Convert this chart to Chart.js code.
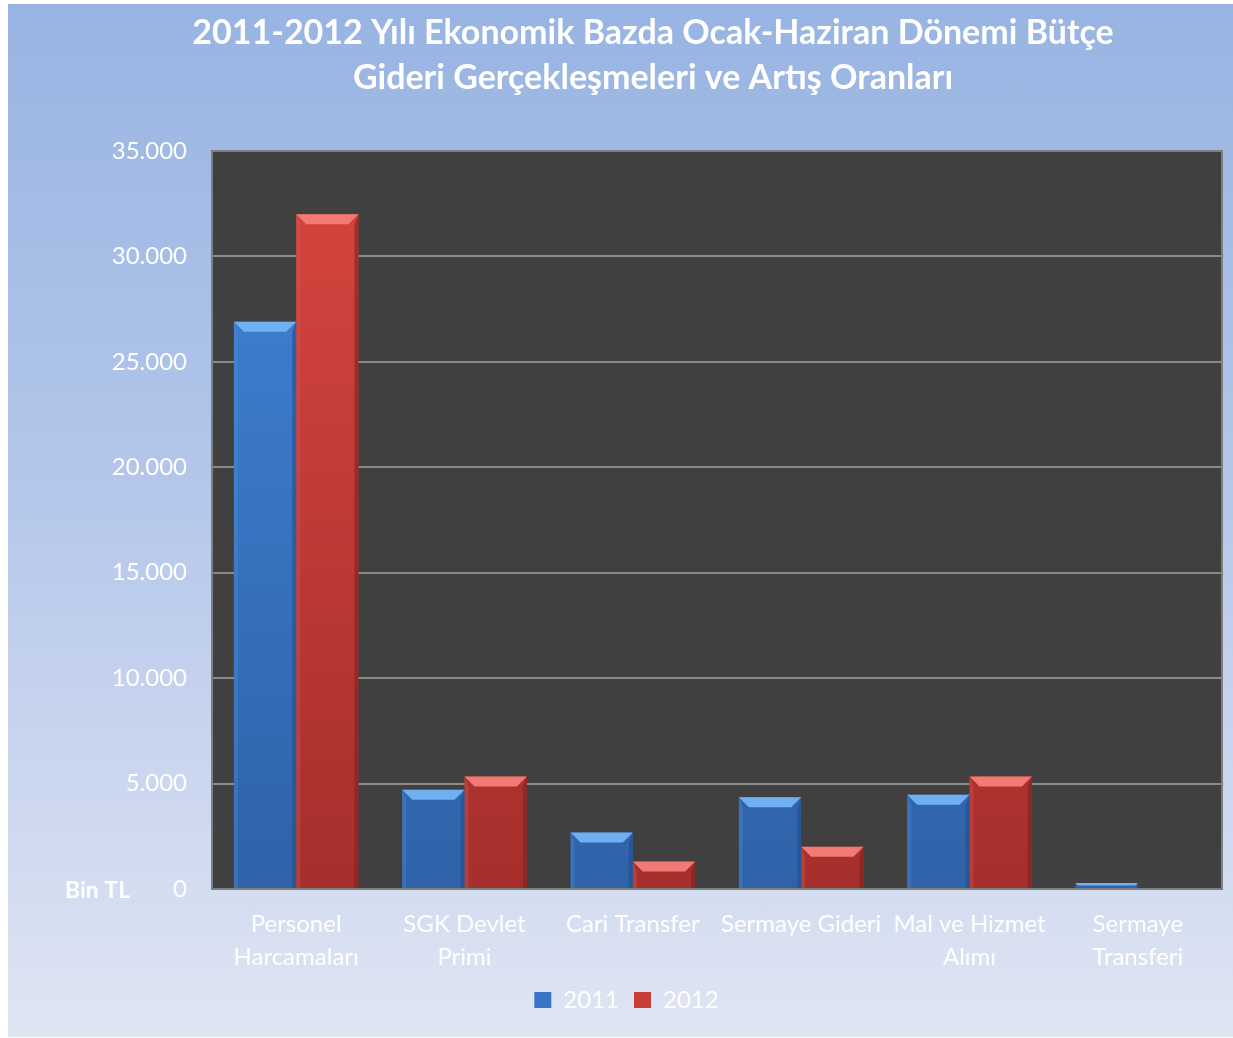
<!DOCTYPE html>
<html>
<head>
<meta charset="utf-8">
<script src="https://cdn.jsdelivr.net/npm/chart.js@4.4.1/dist/chart.umd.min.js"></script>
<style>
  body { margin: 0; background: #ffffff; }
  #wrap {
    position: absolute; left: 8px; top: 4px; width: 1225px; height: 1033px;
    background: linear-gradient(to bottom, #98b4e2 0%, #b3c6ea 45%, #dfe5f3 100%);
  }
</style>
</head>
<body>
<div id="wrap"><canvas id="bar-chartcanvas" width="1225" height="1033"></canvas></div>
<script>
// values in thousand TL (Bin TL)
var categories = [
  ["Personel", "Harcamaları"],
  ["SGK Devlet", "Primi"],
  "Cari Transfer",
  "Sermaye Gideri",
  ["Mal ve Hizmet", "Alımı"],
  ["Sermaye", "Transferi"]
];
var values2011 = [26900, 4710, 2680, 4350, 4470, 280];
var values2012 = [32000, 5340, 1310, 2000, 5340, 0];
var seriesLabels = ["2011", "2012"];
var titleLines = ["2011-2012 Yılı Ekonomik Bazda Ocak-Haziran Dönemi Bütçe", "Gideri Gerçekleşmeleri ve Artış Oranları"];

var fontName = "Lato, 'Open Sans', sans-serif";

function formatTR(v) {
  return String(v).replace(/\B(?=(\d{3})+(?!\d))/g, ".");
}

// dark plot area + frame + title + unit label
var plotBg = {
  id: "plotBg",
  beforeDraw: function(chart) {
    var a = chart.chartArea, c = chart.ctx;
    c.save();
    c.fillStyle = "#404040";
    c.fillRect(a.left, a.top, a.right - a.left, a.bottom - a.top);
    c.restore();
  },
  afterDraw: function(chart) {
    var a = chart.chartArea, c = chart.ctx;
    c.save();
    c.strokeStyle = "#7f7f7f";
    c.lineWidth = 2;
    c.strokeRect(a.left, a.top, a.right - a.left, a.bottom - a.top);
    c.fillStyle = "#ffffff";
    c.textBaseline = "middle";
    // "Bin TL" next to zero tick
    c.font = "bold 23px " + fontName;
    c.textAlign = "left";
    c.fillText("Bin TL", 57, a.bottom + 2);
    // title
    c.font = "bold 34px " + fontName;
    c.textAlign = "center";
    c.fillText(titleLines[0], 645, 29);
    c.fillText(titleLines[1], 645, 74);
    c.restore();
  }
};

// bevel look on each bar
var bevel = {
  id: "bevel",
  afterDatasetsDraw: function(chart) {
    var c = chart.ctx;
    var tones = [
      { top: "#6fb0f5", left: "#4c8ede", right: "#234f8c" },
      { top: "#f27a74", left: "#dc5550", right: "#7e2220" }
    ];
    chart.data.datasets.forEach(function(ds, di) {
      var meta = chart.getDatasetMeta(di);
      meta.data.forEach(function(bar) {
        var h = bar.base - bar.y;
        if (h <= 0.5) return;
        var l = bar.x - bar.width / 2, r = bar.x + bar.width / 2, t = bar.y, b = bar.base;
        var d = Math.min(10, h / 2, bar.width / 2);
        var tn = tones[di];
        c.save();
        c.fillStyle = tn.top;
        c.beginPath();
        c.moveTo(l, t); c.lineTo(r, t); c.lineTo(r - d, t + d); c.lineTo(l + d, t + d); c.closePath();
        c.fill();
        c.globalAlpha = 0.35;
        c.fillStyle = tn.left;
        c.beginPath();
        c.moveTo(l, t); c.lineTo(l + d * 0.4, t + d); c.lineTo(l + d * 0.4, b); c.lineTo(l, b); c.closePath();
        c.fill();
        c.globalAlpha = 0.6;
        c.fillStyle = tn.right;
        c.beginPath();
        c.moveTo(r, t); c.lineTo(r - d * 0.4, t + d); c.lineTo(r - d * 0.4, b); c.lineTo(r, b); c.closePath();
        c.fill();
        c.restore();
      });
    });
  }
};

function barFill(top, bottom) {
  return function(context) {
    var chart = context.chart, a = chart.chartArea;
    if (!a) return top;
    var g = chart.ctx.createLinearGradient(0, a.top, 0, a.bottom);
    g.addColorStop(0, top);
    g.addColorStop(1, bottom);
    return g;
  };
}

var ctx = document.getElementById("bar-chartcanvas");

var data = {
  labels: categories,
  datasets: [
    {
      label: seriesLabels[0],
      data: values2011,
      backgroundColor: barFill("#3f84d6", "#2f62a8"),
      borderWidth: 0,
      categoryPercentage: 0.74,
      barPercentage: 1.0
    },
    {
      label: seriesLabels[1],
      data: values2012,
      backgroundColor: barFill("#d8453f", "#a52f2c"),
      borderWidth: 0,
      categoryPercentage: 0.74,
      barPercentage: 1.0
    }
  ]
};

var options = {
  responsive: false,
  animation: false,
  layout: { padding: { left: 23, right: 11, top: 147, bottom: 15 } },
  plugins: {
    title: { display: false },
    legend: {
      display: true,
      position: "bottom",
      labels: {
        color: "#ffffff",
        font: { family: fontName, size: 24 },
        boxWidth: 17,
        boxHeight: 16,
        padding: 15,
        generateLabels: function(chart) {
          var fills = ["#3a74c4", "#c93c37"];
          return chart.data.datasets.map(function(ds, i) {
            return {
              text: ds.label, fillStyle: fills[i], strokeStyle: fills[i],
              lineWidth: 0, datasetIndex: i, fontColor: "#ffffff"
            };
          });
        }
      }
    },
    tooltip: { enabled: false }
  },
  scales: {
    x: {
      afterFit: function(scale) { scale.height = 84; },
      grid: { display: false, drawTicks: false },
      border: { display: false },
      ticks: {
        color: "#ffffff",
        font: { family: fontName, size: 24, lineHeight: 1.4 },
        padding: 18,
        maxRotation: 0,
        autoSkip: false
      }
    },
    y: {
      min: 0,
      max: 35000,
      afterFit: function(scale) { scale.width = 181; },
      grid: { color: "#8a8a8a", lineWidth: 2, drawTicks: false },
      border: { display: false },
      ticks: {
        stepSize: 5000,
        color: "#ffffff",
        font: { family: fontName, size: 24 },
        padding: 25,
        callback: function(v) { return formatTR(v); }
      }
    }
  }
};

var chart = new Chart(ctx, {
  type: "bar",
  data: data,
  options: options,
  plugins: [plotBg, bevel]
});
</script>
</body>
</html>
